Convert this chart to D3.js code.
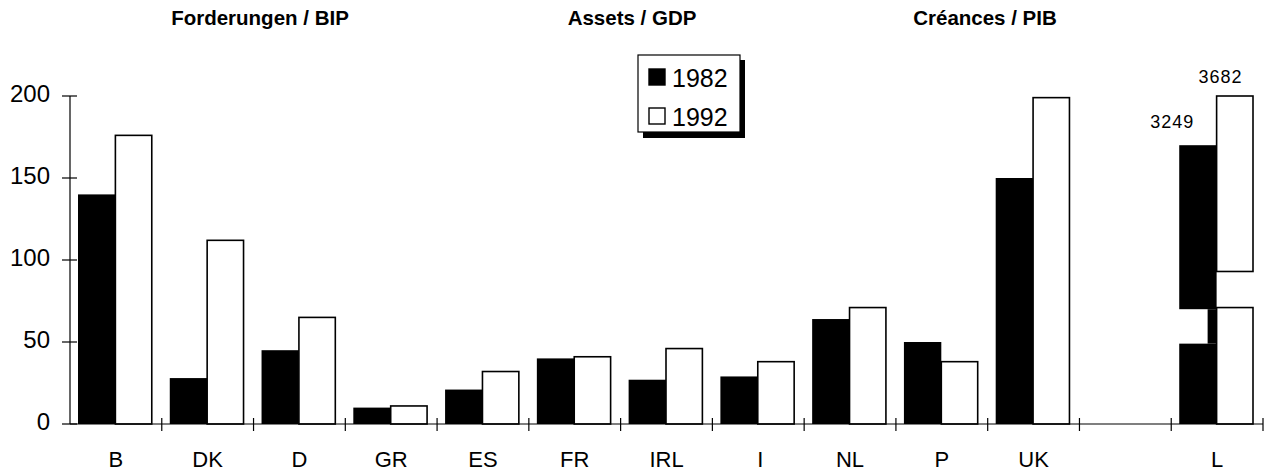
<!DOCTYPE html>
<html><head><meta charset="utf-8">
<script src="https://cdn.jsdelivr.net/npm/d3@7"></script>
<style>body{margin:0;background:#fff}svg{display:block}</style>
</head><body>
<svg id="c" width="1267" height="472"></svg>
<script>
const categories = ["B","DK","D","GR","ES","FR","IRL","I","NL","P","UK","_gap","L"];
const values1982 = [140,28,45,10,21,40,27,29,64,50,150,null,null];
const values1992 = [176,112,65,11,32,41,46,38,71,38,199,null,null];
const yTicks = [0,50,100,150,200];
const titles = ["Forderungen / BIP","Assets / GDP","Créances / PIB"];
// Luxembourg: broken bars (scale segments)
const lSegments1982 = [[0,49],[70,170]];
const lConnector1982 = [49,70];
const lSegments1992 = [[0,71],[93,200]];
const lLabels = ["3249","3682"];
const legendItems = ["1982","1992"];

const FONT = "Liberation Sans, Arial, sans-serif";
const svg = d3.select("#c");
const x = d3.scaleBand().domain(categories).range([70,1263]);
const bw = x.bandwidth();
const xs = d3.scaleBand().domain(["1982","1992"]).range([8,bw-9]);
const y = d3.scaleLinear().domain([0,200]).range([424,96]);

// titles
const titleX = [260,632,985];
titles.forEach((t,i)=>svg.append("text").attr("x",titleX[i]).attr("y",25)
  .attr("text-anchor","middle").attr("font-family",FONT)
  .attr("font-weight","bold").attr("font-size",20.5).text(t));

// bars
const g = svg.append("g");
categories.forEach((c,i)=>{
  if(values1982[i]!=null){
    g.append("rect").attr("x",x(c)+xs("1982")).attr("width",xs.bandwidth())
      .attr("y",y(values1982[i])).attr("height",y(0)-y(values1982[i])).attr("fill","#000");
  }
  if(values1992[i]!=null){
    g.append("rect").attr("x",x(c)+xs("1992")).attr("width",xs.bandwidth()-1)
      .attr("y",y(values1992[i])).attr("height",y(0)-y(values1992[i]))
      .attr("fill","#fff").attr("stroke","#000").attr("stroke-width",1.6);
  }
});
// L broken bars
const lx = x("L");
lSegments1982.forEach(s=>g.append("rect").attr("x",lx+xs("1982")).attr("width",xs.bandwidth())
  .attr("y",y(s[1])).attr("height",y(s[0])-y(s[1])).attr("fill","#000"));
g.append("rect").attr("x",lx+xs("1982")+xs.bandwidth()-9).attr("width",9)
  .attr("y",y(lConnector1982[1])).attr("height",y(lConnector1982[0])-y(lConnector1982[1])).attr("fill","#000");
lSegments1992.forEach(s=>g.append("rect").attr("x",lx+xs("1992")).attr("width",xs.bandwidth()-1)
  .attr("y",y(s[1])).attr("height",y(s[0])-y(s[1]))
  .attr("fill","#fff").attr("stroke","#000").attr("stroke-width",1.6));
g.append("text").attr("x",lx+xs("1982")-7).attr("y",y(lSegments1982[1][1])-17)
  .attr("text-anchor","middle").attr("font-family",FONT)
  .attr("font-size",18).attr("letter-spacing",1).text(lLabels[0]);
g.append("text").attr("x",lx+xs("1992")+4).attr("y",y(lSegments1992[1][1])-13)
  .attr("text-anchor","middle").attr("font-family",FONT)
  .attr("font-size",18).attr("letter-spacing",1).text(lLabels[1]);

// y axis
const ya = svg.append("g");
ya.append("line").attr("x1",70).attr("x2",70).attr("y1",y(200)).attr("y2",y(0)).attr("stroke","#000").attr("stroke-width",1.2);
yTicks.forEach(t=>{
  ya.append("line").attr("x1",62).attr("x2",77).attr("y1",y(t)).attr("y2",y(t)).attr("stroke","#000").attr("stroke-width",1.2);
  ya.append("text").attr("x",50).attr("y",y(t)+6).attr("text-anchor","end")
    .attr("font-family",FONT).attr("font-size",24).text(t);
});
// x axis
const xa = svg.append("g");
xa.append("line").attr("x1",70).attr("x2",1263).attr("y1",y(0)).attr("y2",y(0)).attr("stroke","#000").attr("stroke-width",1.2);
categories.forEach((c,i)=>{
  if(i>0) xa.append("line").attr("x1",x(c)).attr("x2",x(c)).attr("y1",y(0)-6).attr("y2",y(0)+7).attr("stroke","#000").attr("stroke-width",1.2);
  if(c!=="_gap") xa.append("text").attr("x",x(c)+bw/2+(c==="I"?2:0)).attr("y",467).attr("text-anchor","middle")
    .attr("font-family",FONT).attr("font-size",22).text(c);
});
xa.append("line").attr("x1",1263).attr("x2",1263).attr("y1",y(0)-6).attr("y2",y(0)+7).attr("stroke","#000").attr("stroke-width",1.2);

// legend
const lg = svg.append("g");
lg.append("rect").attr("x",643).attr("y",60).attr("width",102).attr("height",78).attr("fill","#000");
lg.append("rect").attr("x",638).attr("y",55).attr("width",102).attr("height",77).attr("fill","#fff").attr("stroke","#000").attr("stroke-width",1.2);
legendItems.forEach((t,i)=>{
  const yy = 69 + i*39;
  lg.append("rect").attr("x",649).attr("y",yy).attr("width",16).attr("height",16)
    .attr("fill",i===0?"#000":"#fff").attr("stroke","#000").attr("stroke-width",1.4);
  lg.append("text").attr("x",672).attr("y",yy+18).attr("font-family",FONT)
    .attr("font-size",25).text(t);
});
</script>
</body></html>
